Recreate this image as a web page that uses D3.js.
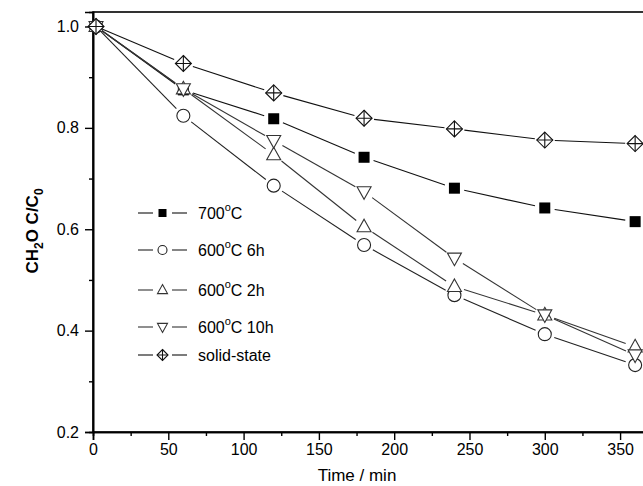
<!DOCTYPE html>
<html><head><meta charset="utf-8">
<script src="https://cdn.jsdelivr.net/npm/d3@7"></script>
<style>body{margin:0;background:#fff}svg{display:block;font-family:"Liberation Sans",Arial,sans-serif}</style>
</head><body>
<svg id="c" width="643" height="486"></svg>
<script>
const times = [2, 60, 120, 180, 240, 300, 360];
const s700 = [1.0, 0.875, 0.818, 0.742, 0.681, 0.642, 0.615];
const s600_6h = [1.0, 0.824, 0.686, 0.569, 0.470, 0.393, 0.332];
const s600_2h = [1.0, 0.877, 0.747, 0.605, 0.487, 0.431, 0.368];
const s600_10h = [1.0, 0.877, 0.775, 0.674, 0.543, 0.431, 0.352];
const sSolid = [1.0, 0.927, 0.869, 0.819, 0.798, 0.776, 0.769];
const seriesNames = ["700", "600 6h", "600 2h", "600 10h", "solid-state"];
const xTicks = [0, 50, 100, 150, 200, 250, 300, 350];
const yTicks = [0.2, 0.4, 0.6, 0.8, 1.0];

const series = [
  {name: seriesNames[0], vals: s700, sym: "square", color: "#111", label: ["700", "C", ""]},
  {name: seriesNames[1], vals: s600_6h, sym: "circle", color: "#222", label: ["600", "C 6h", ""]},
  {name: seriesNames[2], vals: s600_2h, sym: "up", color: "#333", label: ["600", "C 2h", ""]},
  {name: seriesNames[3], vals: s600_10h, sym: "down", color: "#333", label: ["600", "C 10h", ""]},
  {name: seriesNames[4], vals: sSolid, sym: "diamond", color: "#111", label: ["solid-state"]}
];

const svg = d3.select("#c");
const x = d3.scaleLinear().domain([0, 370]).range([93, 650.2]);
const y = d3.scaleLinear().domain([0.2, 1.0286]).range([432, 12]);

svg.append("rect").attr("x", 93).attr("y", 12).attr("width", 650.2 - 93).attr("height", 420)
  .attr("fill", "none").attr("stroke", "#000").attr("stroke-width", 1.6);

const xAx = svg.append("g").attr("transform", "translate(0,432)")
  .call(d3.axisBottom(x).tickValues(xTicks).tickSize(8).tickPadding(4).tickFormat(d3.format("d")));
const xMin = svg.append("g").attr("transform", "translate(0,432)")
  .call(d3.axisBottom(x).tickValues(xTicks.map(t => t + 25)).tickSize(4).tickFormat(""));
const yAx = svg.append("g").attr("transform", "translate(93,0)")
  .call(d3.axisLeft(y).tickValues(yTicks).tickSize(8).tickPadding(6).tickFormat(d3.format(".1f")));
const yMin = svg.append("g").attr("transform", "translate(93,0)")
  .call(d3.axisLeft(y).tickValues(yTicks.slice(0, 4).map(t => t + 0.1)).tickSize(4).tickFormat(""));
[xAx, xMin, yAx, yMin].forEach(g => {
  g.select(".domain").attr("stroke", "#000").attr("stroke-width", 1.6);
  g.selectAll(".tick line").attr("stroke", "#000").attr("stroke-width", 1.4);
  g.selectAll(".tick text").attr("font-size", 16).attr("fill", "#000")
    .attr("font-family", "'Liberation Sans',Arial,sans-serif");
});

svg.append("text").attr("x", 357).attr("y", 481).attr("text-anchor", "middle")
  .attr("font-size", 17).text("Time / min");
const yt = svg.append("text").attr("transform", "translate(38,231) rotate(-90)")
  .attr("text-anchor", "middle").attr("font-size", 17).attr("font-weight", "bold");
yt.append("tspan").text("CH");
yt.append("tspan").attr("font-size", 12).attr("dy", 5).text("2");
yt.append("tspan").attr("dy", -5).text("O C/C");
yt.append("tspan").attr("font-size", 12).attr("dy", 5).text("0");

function drawSym(g, sym, cx, cy, s, color) {
  const sw = 1.1;
  if (sym === "square") {
    g.append("rect").attr("x", cx - s / 2).attr("y", cy - s / 2).attr("width", s).attr("height", s)
      .attr("fill", "#000");
  } else if (sym === "circle") {
    g.append("circle").attr("cx", cx).attr("cy", cy).attr("r", s / 2)
      .attr("fill", "#fff").attr("stroke", color).attr("stroke-width", sw);
  } else if (sym === "up") {
    const h = s * 0.9;
    g.append("path").attr("d", `M${cx},${cy - h * 0.6}L${cx + s / 2},${cy + h * 0.4}L${cx - s / 2},${cy + h * 0.4}Z`)
      .attr("fill", "#fff").attr("stroke", color).attr("stroke-width", sw);
  } else if (sym === "down") {
    const h = s * 0.9;
    g.append("path").attr("d", `M${cx},${cy + h * 0.6}L${cx + s / 2},${cy - h * 0.4}L${cx - s / 2},${cy - h * 0.4}Z`)
      .attr("fill", "#fff").attr("stroke", color).attr("stroke-width", sw);
  } else if (sym === "diamond") {
    const r = s / 2;
    g.append("path").attr("d", `M${cx},${cy - r}L${cx + r},${cy}L${cx},${cy + r}L${cx - r},${cy}Z`)
      .attr("fill", "#fff").attr("stroke", color).attr("stroke-width", sw);
    g.append("path").attr("d", `M${cx - r},${cy}L${cx + r},${cy}M${cx},${cy - r}L${cx},${cy + r}`)
      .attr("stroke", color).attr("stroke-width", sw);
  }
}

const sizes = {square: 11, circle: 13, up: 14, down: 14, diamond: 16};
const gap = 10;

series.forEach(s => {
  const g = svg.append("g");
  for (let i = 0; i < times.length - 1; i++) {
    const x1 = x(times[i]), y1 = y(s.vals[i]), x2 = x(times[i + 1]), y2 = y(s.vals[i + 1]);
    const L = Math.hypot(x2 - x1, y2 - y1);
    const ux = (x2 - x1) / L, uy = (y2 - y1) / L;
    const g0 = i === 0 ? 4 : gap;
    g.append("line").attr("x1", x1 + ux * g0).attr("y1", y1 + uy * g0)
      .attr("x2", x2 - ux * gap).attr("y2", y2 - uy * gap)
      .attr("stroke", s.color).attr("stroke-width", 1.1);
  }
});
series.forEach(s => {
  const g = svg.append("g");
  times.forEach((t, i) => drawSym(g, s.sym, x(t), y(s.vals[i]), sizes[s.sym], s.color));
});

const legY = [213, 250, 290, 327, 355];
const legSize = {square: 8, circle: 9, up: 10, down: 10, diamond: 11};
series.forEach((s, i) => {
  const g = svg.append("g");
  const cy = legY[i];
  g.append("line").attr("x1", 138).attr("x2", 153).attr("y1", cy).attr("y2", cy).attr("stroke", s.color).attr("stroke-width", 1.1);
  g.append("line").attr("x1", 172).attr("x2", 187).attr("y1", cy).attr("y2", cy).attr("stroke", s.color).attr("stroke-width", 1.1);
  drawSym(g, s.sym, 162.5, cy, legSize[s.sym], s.color);
  const t = g.append("text").attr("x", 198).attr("y", cy + 6).attr("font-size", 16);
  if (s.label.length === 1) {
    t.text(s.label[0]);
  } else {
    t.append("tspan").text(s.label[0]);
    t.append("tspan").attr("font-size", 11).attr("dy", -8).text("o");
    t.append("tspan").attr("dy", 8).text(s.label[1]);
  }
});
</script>
</body></html>
